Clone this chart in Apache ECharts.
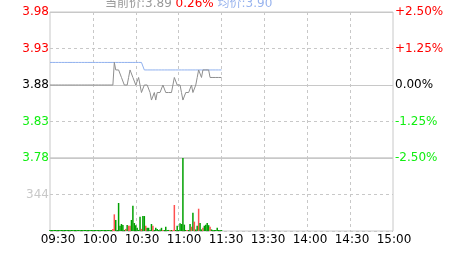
<!DOCTYPE html>
<html><head><meta charset="utf-8">
<script src="https://cdn.jsdelivr.net/npm/echarts@6/dist/echarts.min.js"></script>
<style>html,body{margin:0;padding:0;background:#fff}#c{width:463px;height:255px}</style>
</head><body><div id="c"></div>
<script>
const prevClose = 3.88;
const timeLabels = ['09:30','10:00','10:30','11:00','11:30','13:30','14:00','14:30','15:00'];
// minute prices 09:30 .. 11:30 (121 points)
const prices = [
3.88,3.88,3.88,3.88,3.88,3.88,3.88,3.88,3.88,3.88,
3.88,3.88,3.88,3.88,3.88,3.88,3.88,3.88,3.88,3.88,
3.88,3.88,3.88,3.88,3.88,3.88,3.88,3.88,3.88,3.88,
3.88,3.88,3.88,3.88,3.88,3.88,3.88,3.88,3.88,3.88,
3.88,3.88,3.88,3.88,3.88,
3.91,3.90,3.90,3.90,3.90,3.89,3.89,3.88,3.88,3.88,
3.89,3.90,3.90,3.89,3.89,3.88,3.88,3.89,3.88,3.87,
3.87,3.88,3.88,3.88,3.88,3.87,3.86,3.86,3.87,3.86,
3.87,3.87,3.87,3.87,3.88,3.88,3.87,3.87,3.87,3.87,
3.87,3.88,3.89,3.89,3.88,3.88,3.88,3.87,3.86,3.86,
3.87,3.87,3.87,3.87,3.88,3.87,3.87,3.88,3.89,3.90,
3.90,3.89,3.90,3.90,3.90,3.90,3.90,3.89,3.89,3.89,
3.89,3.89,3.89,3.89,3.89,3.89
];
const avgPrices = [
3.91,3.91,3.91,3.91,3.91,3.91,3.91,3.91,3.91,3.91,
3.91,3.91,3.91,3.91,3.91,3.91,3.91,3.91,3.91,3.91,
3.91,3.91,3.91,3.91,3.91,3.91,3.91,3.91,3.91,3.91,
3.91,3.91,3.91,3.91,3.91,3.91,3.91,3.91,3.91,3.91,
3.91,3.91,3.91,3.91,3.91,3.91,3.91,3.91,3.91,3.91,
3.91,3.91,3.91,3.91,3.91,3.91,3.91,3.91,3.91,3.91,
3.91,3.91,3.91,3.91,3.91,3.91,
3.90,3.90,3.90,3.90,3.90,3.90,3.90,3.90,3.90,3.90,
3.90,3.90,3.90,3.90,3.90,3.90,3.90,3.90,3.90,3.90,
3.90,3.90,3.90,3.90,3.90,3.90,3.90,3.90,3.90,3.90,
3.90,3.90,3.90,3.90,3.90,3.90,3.90,3.90,3.90,3.90,
3.90,3.90,3.90,3.90,3.90,3.90,3.90,3.90,3.90,3.90,
3.90,3.90,3.90,3.90,3.90
];
const volumes = [
1,1,1,1,1,1,1,1,1,1,
1,1,1,1,1,1,1,1,1,1,
1,1,1,1,1,1,1,1,1,1,
1,1,1,1,1,1,1,1,1,1,
1,1,1,1,
20,157,104,8,264,50,66,57,10,20,
57,50,50,104,238,75,55,30,10,135,
20,141,141,50,30,30,10,66,50,10,
30,20,8,15,30,10,8,40,10,10,
10,5,10,245,10,50,8,72,66,688,
60,8,10,5,66,40,172,88,15,50,
210,75,15,30,50,60,75,55,40,15,
10,5,5,30,5,5,5
];
// 1 = up (red), 0 = down (green)
const volUp = [
0,0,0,0,0,0,0,0,0,0,
0,0,0,0,0,0,0,0,0,0,
0,0,0,0,0,0,0,0,0,0,
0,0,0,0,0,0,0,0,0,0,
0,0,0,0,
1,1,0,0,0,0,0,0,0,1,
0,1,1,0,0,0,0,0,0,0,
1,0,0,1,0,0,0,0,1,0,
0,0,0,0,0,1,0,0,0,0,
1,0,1,1,0,0,0,0,0,0,
0,0,1,0,0,1,0,1,0,0,
1,0,0,1,0,0,0,0,1,0,
0,0,0,0,0,0,0
];
const volMax = 688;

const minutes = [];
(function(){
  const push = (h, m) => minutes.push((h < 10 ? '0' : '') + h + ':' + (m < 10 ? '0' : '') + m);
  for (let t = 9 * 60 + 30; t <= 11 * 60 + 30; t++) push(Math.floor(t / 60), t % 60);
  for (let t = 13 * 60 + 1; t <= 15 * 60; t++) push(Math.floor(t / 60), t % 60);
})();

const FONT = "'DejaVu Sans','Noto Sans CJK SC',sans-serif";
const GRID = '#c8c8c8';
const RED = '#ff0000', GREEN = '#11ee11';
const pct = p => (p / prevClose - 1) * 100;
const splitFn = (idx) => idx % 30 === 0 && idx > 0 && idx < minutes.length - 1;
const lvlColor = v => v > 0 ? RED : (v < 0 ? GREEN : '#000');

const last = prices[prices.length - 1];
const chg = pct(last).toFixed(2);
const avgLast = avgPrices[avgPrices.length - 1];

const chart = echarts.init(document.getElementById('c'));
chart.setOption({
  animation: false,
  textStyle: { fontFamily: FONT },
  grid: [
    { left: 50, right: 70, top: 12, height: 146, show: true, borderColor: GRID, borderWidth: 1, backgroundColor: 'transparent' },
    { left: 50, right: 70, top: 158, height: 73, show: true, borderColor: GRID, borderWidth: 1, backgroundColor: 'transparent' },
    { left: 58, right: 69, top: 158, height: 73 }
  ],
  xAxis: [
    { gridIndex: 0, type: 'category', data: minutes, boundaryGap: false,
      axisLine: { show: false }, axisTick: { show: false }, axisLabel: { show: false },
      splitLine: { show: true, interval: splitFn, lineStyle: { color: GRID, type: [3, 3] } } },
    { gridIndex: 1, type: 'category', data: minutes, boundaryGap: false,
      axisLine: { show: false }, axisTick: { show: false }, axisLabel: { show: false },
      splitLine: { show: true, interval: splitFn, lineStyle: { color: GRID, type: [3, 3] } } },
    { gridIndex: 2, type: 'category', data: timeLabels, boundaryGap: false,
      axisLine: { show: false }, axisTick: { show: false }, splitLine: { show: false },
      axisLabel: { interval: 0, color: '#000', fontSize: 12, margin: 3, fontFamily: FONT } }
  ],
  yAxis: [
    { gridIndex: 0, type: 'value', min: -2.5, max: 2.5, interval: 1.25, position: 'left',
      axisLine: { show: false }, axisTick: { show: false },
      axisLabel: { margin: 1, fontSize: 12, fontFamily: FONT, color: lvlColor,
        formatter: v => (prevClose * (1 + v / 100)).toFixed(2) },
      splitLine: { show: true, lineStyle: { color: GRID, type: [3, 3] } } },
    { gridIndex: 0, type: 'value', min: -2.5, max: 2.5, interval: 1.25, position: 'right',
      axisLine: { show: false }, axisTick: { show: false }, splitLine: { show: false },
      axisLabel: { margin: 2, fontSize: 12, fontFamily: FONT, color: lvlColor,
        formatter: v => (v > 0 ? '+' : '') + v.toFixed(2) + '%' } },
    { gridIndex: 0, type: 'value', min: -2.5, max: 2.5, interval: 2.5,
      axisLine: { show: false }, axisTick: { show: false }, axisLabel: { show: false },
      splitLine: { show: true, lineStyle: { color: GRID, type: 'solid' } } },
    { gridIndex: 1, type: 'value', min: 0, max: volMax, interval: volMax / 2, position: 'left',
      axisLine: { show: false }, axisTick: { show: false },
      axisLabel: { margin: 1, fontSize: 12, fontFamily: FONT, color: '#c8c8c8',
        formatter: v => (v > 0 && v < volMax) ? String(v) : '' },
      splitLine: { show: true, lineStyle: { color: GRID, type: [3, 3] } } },
    { gridIndex: 2, type: 'value', show: false }
  ],
  graphic: [{
    type: 'text', x: 105, y: 4, silent: true,
    style: {
      text: '{a|当前价:' + last.toFixed(2) + '} {b|' + chg + '%} {c|均价:' + avgLast.toFixed(2) + '}',
      font: '12px ' + FONT, fill: '#999', verticalAlign: 'middle',
      rich: {
        a: { fill: '#999999', fontSize: 12, fontFamily: FONT },
        b: { fill: RED, fontSize: 12, fontFamily: FONT },
        c: { fill: '#99b4ee', fontSize: 12, fontFamily: FONT }
      }
    }
  }],
  series: [
    { type: 'line', xAxisIndex: 0, yAxisIndex: 2, data: avgPrices.map(pct), symbol: 'none',
      lineStyle: { color: '#8fb0ee', width: 1 }, z: 2, silent: true },
    { type: 'line', xAxisIndex: 0, yAxisIndex: 2, data: prices.map(pct), symbol: 'none',
      lineStyle: { color: '#8e8e8e', width: 1 }, z: 3, silent: true },
    { type: 'bar', xAxisIndex: 1, yAxisIndex: 3, barWidth: 1.5, barMinHeight: 1, silent: true,
      data: volumes.map((v, i) => ({ value: v, itemStyle: { color: volUp[i] ? '#ff5050' : '#00a000' } })) }
  ]
});
</script>
</body></html>
